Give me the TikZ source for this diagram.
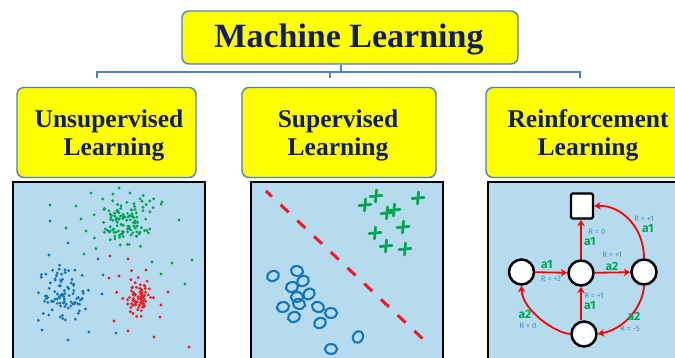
\documentclass[tikz,border=0pt]{standalone}
\usepackage{fontspec}
\setmainfont{Liberation Serif}
\newfontfamily\notefont{Fira Sans}
\usetikzlibrary{arrows.meta,calc}

\definecolor{boxyellow}{RGB}{255,255,0}
\definecolor{boxline}{RGB}{79,129,189}
\definecolor{headnavy}{RGB}{18,30,92}
\definecolor{panelblue}{RGB}{183,219,238}
\definecolor{dotgreen}{RGB}{0,166,81}
\definecolor{dotblue}{RGB}{20,118,186}
\definecolor{dotred}{RGB}{237,28,36}
\definecolor{rewardblue}{RGB}{72,140,192}

\tikzset{
  ybox/.style={draw=boxline, line width=1.4pt, fill=boxyellow, rounded corners=7pt, inner sep=0pt},
  headtext/.style={text=headnavy, inner sep=0pt, anchor=base, font=\fontsize{34}{40}\selectfont\bfseries},
  subtext/.style={text=headnavy, inner sep=0pt, anchor=base, font=\fontsize{25.5}{30}\selectfont\bfseries},
  conn/.style={draw=boxline, line width=1.5pt},
  panel/.style={draw=black, line width=2.4pt, fill=panelblue},
  gdot/.style={fill=dotgreen},
  bdot/.style={fill=dotblue},
  rdot/.style={fill=dotred},
  gplus/.style={draw=dotgreen, line width=2.7pt, line cap=round},
  bring/.style={draw=dotblue, line width=2.1pt},
  splitline/.style={draw=dotred, line width=3pt, dash pattern=on 11pt off 12pt, dash phase=3pt},
  rlstate/.style={circle, draw=black, line width=2.5pt, fill=white, minimum size=25pt, inner sep=0pt},
  rlgoal/.style={rectangle, draw=black, line width=2.4pt, fill=white, rounded corners=1.5pt, minimum width=22pt, minimum height=25pt, inner sep=0pt},
  rlarrow/.style={draw=red, line width=1.8pt, -{Stealth[length=6.5pt,width=7.5pt]}},
  actlabel/.style={text=dotgreen, inner sep=0pt, font=\notefont\fontsize{12}{13}\selectfont\bfseries},
  rewlabel/.style={text=rewardblue, inner sep=0pt, font=\notefont\fontsize{7.8}{8}\selectfont},
  plusmark/.pic={\draw[gplus] (-6,0.6) -- (6,-0.6) (0.5,-6) -- (-0.5,6);}
}

\begin{document}
\begin{tikzpicture}[x=1pt,y=-1pt]
\useasboundingbox (0,0) rectangle (675,358);
\clip (0,0) rectangle (675,358);
\fill[white] (0,0) rectangle (675,358);

% ---------- title and category boxes ----------
\node[ybox, minimum width=336pt, minimum height=53pt] (ml) at (350,37.5) {};
\node[headtext] (mltxt) at (349,48) {Machine Learning};

\node[ybox, minimum width=179pt, minimum height=90pt] (ul) at (106.5,132.5) {};
\node[subtext] (ultxt1) at (109,128) {Unsupervised};
\node[subtext] (ultxt2) at (114,156) {Learning};

\node[ybox, minimum width=194pt, minimum height=90pt] (sl) at (339,132.5) {};
\node[subtext] (sltxt1) at (338,128) {Supervised};
\node[subtext] (sltxt2) at (338,156) {Learning};

\node[ybox, minimum width=204pt, minimum height=90pt] (rl) at (588,132.5) {};
\node[subtext] (rltxt1) at (588,128) {Reinforcement};
\node[subtext] (rltxt2) at (588,156) {Learning};

% ---------- tree connector ----------
\coordinate (bus) at (341,72);
\coordinate (dl) at (97,78);
\coordinate (dm) at (330,78);
\coordinate (dr) at (580,78);
\draw[conn] (ml.south -| bus) -- (bus);
\draw[conn] (dl) -- (dl |- bus) -- (dr |- bus) -- (dr);
\draw[conn] (dm) -- (dm |- bus);

% ---------- panels ----------
\node[panel, minimum width=192pt, minimum height=190pt, anchor=north west] (pu) at (12,181) {};
\node[panel, minimum width=192pt, minimum height=190pt, anchor=north west] (ps) at (250,181) {};
\node[panel, minimum width=200pt, minimum height=190pt, anchor=north west] (pr) at (487,181) {};

% ---------- clustering scatter ----------
\begin{scope}
\clip (14,183) rectangle (202,358);
\pgfmathsetseed{2718}
% green cluster
\foreach \i in {1,...,120}{
  \pgfmathsetmacro\px{128+14.5*(rand+rand+rand)}
  \pgfmathsetmacro\py{222+12.5*(rand+rand+rand)}
  \fill[gdot] (\px,\py) circle[radius=1.6];
}
% blue cluster
\foreach \i in {1,...,90}{
  \pgfmathsetmacro\px{64+11*(rand+rand+rand)}
  \pgfmathsetmacro\py{294+12*(rand+rand+rand)}
  \fill[bdot] (\px,\py) circle[radius=1.6];
}
% red cluster: dense core and looser ring
\foreach \i in {1,...,45}{
  \pgfmathsetmacro\px{139+5.5*(rand+rand+rand)}
  \pgfmathsetmacro\py{298+5.5*(rand+rand+rand)}
  \fill[rdot] (\px,\py) circle[radius=1.6];
}
\foreach \i in {1,...,30}{
  \pgfmathsetmacro\px{139+11*(rand+rand+rand)}
  \pgfmathsetmacro\py{298+10*(rand+rand+rand)}
  \fill[rdot] (\px,\py) circle[radius=1.6];
}
% scattered outliers
\foreach \x/\y in {50/205,76/206,81/219,66/228,86/231,91/193,179/220,162/202,192/260,172/263,152/262,161/274,185/284,84/254,119/188,130/193}
  \fill[gdot] (\x,\y) circle[radius=1.6];
\foreach \x/\y in {50/221,68/243,49/255,98/259,42/330,68/340,89/332,116/333,102/294,103/275}
  \fill[bdot] (\x,\y) circle[radius=1.6];
\foreach \x/\y in {110/256,128/259,146/270,109/278,119/276,154/337,189/347,128/331,114/321,160/317,168/292,161/305}
  \fill[rdot] (\x,\y) circle[radius=1.6];
\end{scope}

% ---------- classification panel ----------
\coordinate (sepa) at (266,191);
\coordinate (sepb) at (424,340);
\draw[splitline] (sepa) -- (sepb);
\foreach \x/\y in {365/205,376/196,418/198,387/213,394/210,403/227,375/233,386/246,405/249}
  \pic at (\x,\y) {plusmark};
\foreach \x/\y/\a in {273/276/25,297/271/-10,303/281/30,292/287/15,309/294/40,297/297/0,299/304/-15,283/307/10,318/307/-20,294/317/20,331/313/0,320/323/30,358/337/60,331/349/0}
  \draw[bring, rotate around={\a:(\x,\y)}] (\x,\y) ellipse[x radius=6.2, y radius=4.9];

% ---------- reinforcement learning graph ----------
\node[rlgoal] (sq) at (582,206) {};
\node[rlstate] (cl) at (521.5,272) {};
\node[rlstate] (cm) at (581,273) {};
\node[rlstate] (cr) at (644,272) {};
\node[rlstate] (cb) at (584,334) {};

\draw[rlarrow] (cl) -- (cm);
\draw[rlarrow] (cm) -- (cr);
\draw[rlarrow] (cm.north) -- (sq.south -| cm.north);
\draw[rlarrow] (cb.north -| cm.south) -- (cm.south);
\draw[rlarrow] (cr.north) .. controls (644,228) and (622,205) .. (sq.east);
\draw[rlarrow] (cb.west) .. controls (555,333) and (522,310) .. (cl.south);
\draw[rlarrow] (cr.south) .. controls (643,306) and (625,329) .. (cb.east);

\node[actlabel] (l1) at (547,265) {a1};
\node[rewlabel] (r1) at (551,279) {R = +2};
\node[rewlabel] (r2) at (597,232) {R = 0};
\node[actlabel] (l2) at (590,242) {a1};
\node[rewlabel] (r3) at (612,255) {R = +1};
\node[actlabel] (l3) at (612,266) {a2};
\node[rewlabel] (r4) at (644,219) {R = +1};
\node[actlabel] (l4) at (648,229) {a1};
\node[rewlabel] (r5) at (594,296) {R = +1};
\node[actlabel] (l5) at (590,306) {a1};
\node[actlabel] (l6) at (525,314) {a2};
\node[rewlabel] (r6) at (528,326) {R = 0};
\node[actlabel] (l7) at (634,316) {a2};
\node[rewlabel] (r7) at (630,329) {R = -5};
\end{tikzpicture}
\end{document}
